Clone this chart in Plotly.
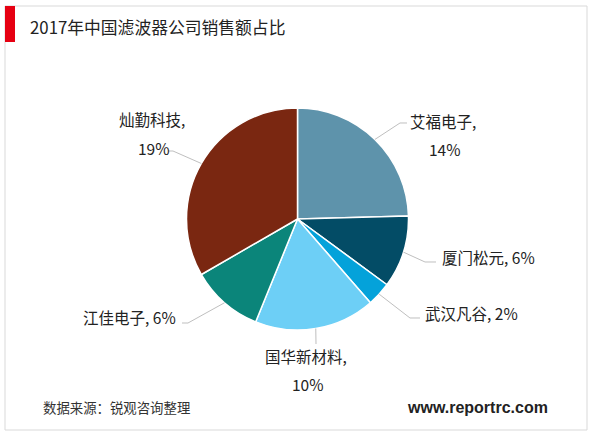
import math
import plotly.graph_objects as go

# ---- data ----
companies = ["艾福电子", "厦门松元", "武汉凡谷", "国华新材料", "江佳电子", "灿勤科技"]
shares = [14, 6, 2, 10, 6, 19]
colors = ["#5E93AB", "#034C66", "#04A2DA", "#6DCFF6", "#0B857A", "#7A2711"]
title_text = "2017年中国滤波器公司销售额占比"
source_text = "数据来源：锐观咨询整理"
site_text = "www.reportrc.com"

W, H = 600, 433
CX, CY, R = 297.5, 219.0, 111.0   # pie geometry in px


def px(x):
    return x / W


def py(y):
    return 1 - y / H


fig = go.Figure()
fig.add_trace(go.Pie(
    labels=companies, values=shares, sort=False, direction="clockwise",
    rotation=0, textinfo="none", hoverinfo="label+value",
    marker=dict(colors=colors, line=dict(color="white", width=1.5)),
    domain=dict(x=[px(CX - R), px(CX + R)], y=[py(CY + R), py(CY - R)]),
    showlegend=False,
))

# label layout: (lines as format kinds, line centers, elbow points)
label_layout = [
    dict(lines=[("name", 443, 121), ("pct", 444, 149)], elbow=[(400, 123), (407, 123)]),
    dict(lines=[("both", 488, 257)], elbow=[(425, 262), (436, 262)]),
    dict(lines=[("both", 471, 313)], elbow=[(410, 318), (420, 318)]),
    dict(lines=[("name", 306, 356), ("pct", 307, 384)], elbow=[(316, 344)]),
    dict(lines=[("both", 129, 317)], elbow=[(188, 323), (182, 323)]),
    dict(lines=[("name", 152, 119), ("pct", 153, 148)], elbow=[(173, 151), (168, 151)]),
]

total = sum(shares)
shapes = []
annotations = []
cum = 0
lab_font = dict(family="Noto Sans CJK SC, sans-serif", size=15.5, color="#222222")
for name, v, lay in zip(companies, shares, label_layout):
    mid = (cum + v / 2) / total * 2 * math.pi
    cum += v
    sx, sy = CX + R * math.sin(mid), CY - R * math.cos(mid)
    pts = [(sx, sy)] + lay["elbow"]
    path = "M " + " L ".join(f"{px(a):.5f},{py(b):.5f}" for a, b in pts)
    shapes.append(dict(type="path", path=path, xref="paper", yref="paper",
                       line=dict(color="#BFBFBF", width=1)))
    for kind, x, y in lay["lines"]:
        if kind == "name":
            t = f"{name},"
        elif kind == "pct":
            t = f"{v}%"
        else:
            t = f"{name}, {v}%"
        annotations.append(dict(text=t, x=px(x), y=py(y), xref="paper", yref="paper",
                                showarrow=False, xanchor="center", yanchor="middle",
                                font=lab_font))

# frame and red title bar
shapes.append(dict(type="rect", xref="paper", yref="paper", x0=px(5), x1=px(587),
                   y0=py(430), y1=py(6), line=dict(color="#D9D9D9", width=1)))
shapes.append(dict(type="rect", xref="paper", yref="paper", x0=px(5), x1=px(15),
                   y0=py(42), y1=py(6), line=dict(width=0), fillcolor="#E60012"))

annotations.append(dict(text=title_text, x=px(28), y=py(27), xref="paper", yref="paper",
                        showarrow=False, xanchor="left", yanchor="middle",
                        font=dict(family="Noto Sans CJK SC, sans-serif", size=16.8, color="#222222")))
annotations.append(dict(text=source_text, x=px(41), y=py(407), xref="paper", yref="paper",
                        showarrow=False, xanchor="left", yanchor="middle",
                        font=dict(family="Noto Sans CJK SC, sans-serif", size=13.4, color="#333333")))
annotations.append(dict(text=f"<b>{site_text}</b>", x=px(550), y=py(407), xref="paper", yref="paper",
                        showarrow=False, xanchor="right", yanchor="middle",
                        font=dict(family="Liberation Sans, Arial, sans-serif", size=16, color="#222222")))

fig.update_layout(width=W, height=H, autosize=False,
                  margin=dict(l=0, r=0, t=0, b=0),
                  paper_bgcolor="white", plot_bgcolor="white",
                  shapes=shapes, annotations=annotations)

fig.write_html("out.html", config={"displayModeBar": False},
               post_script="document.body.style.margin='0';document.body.style.overflow='hidden';")
